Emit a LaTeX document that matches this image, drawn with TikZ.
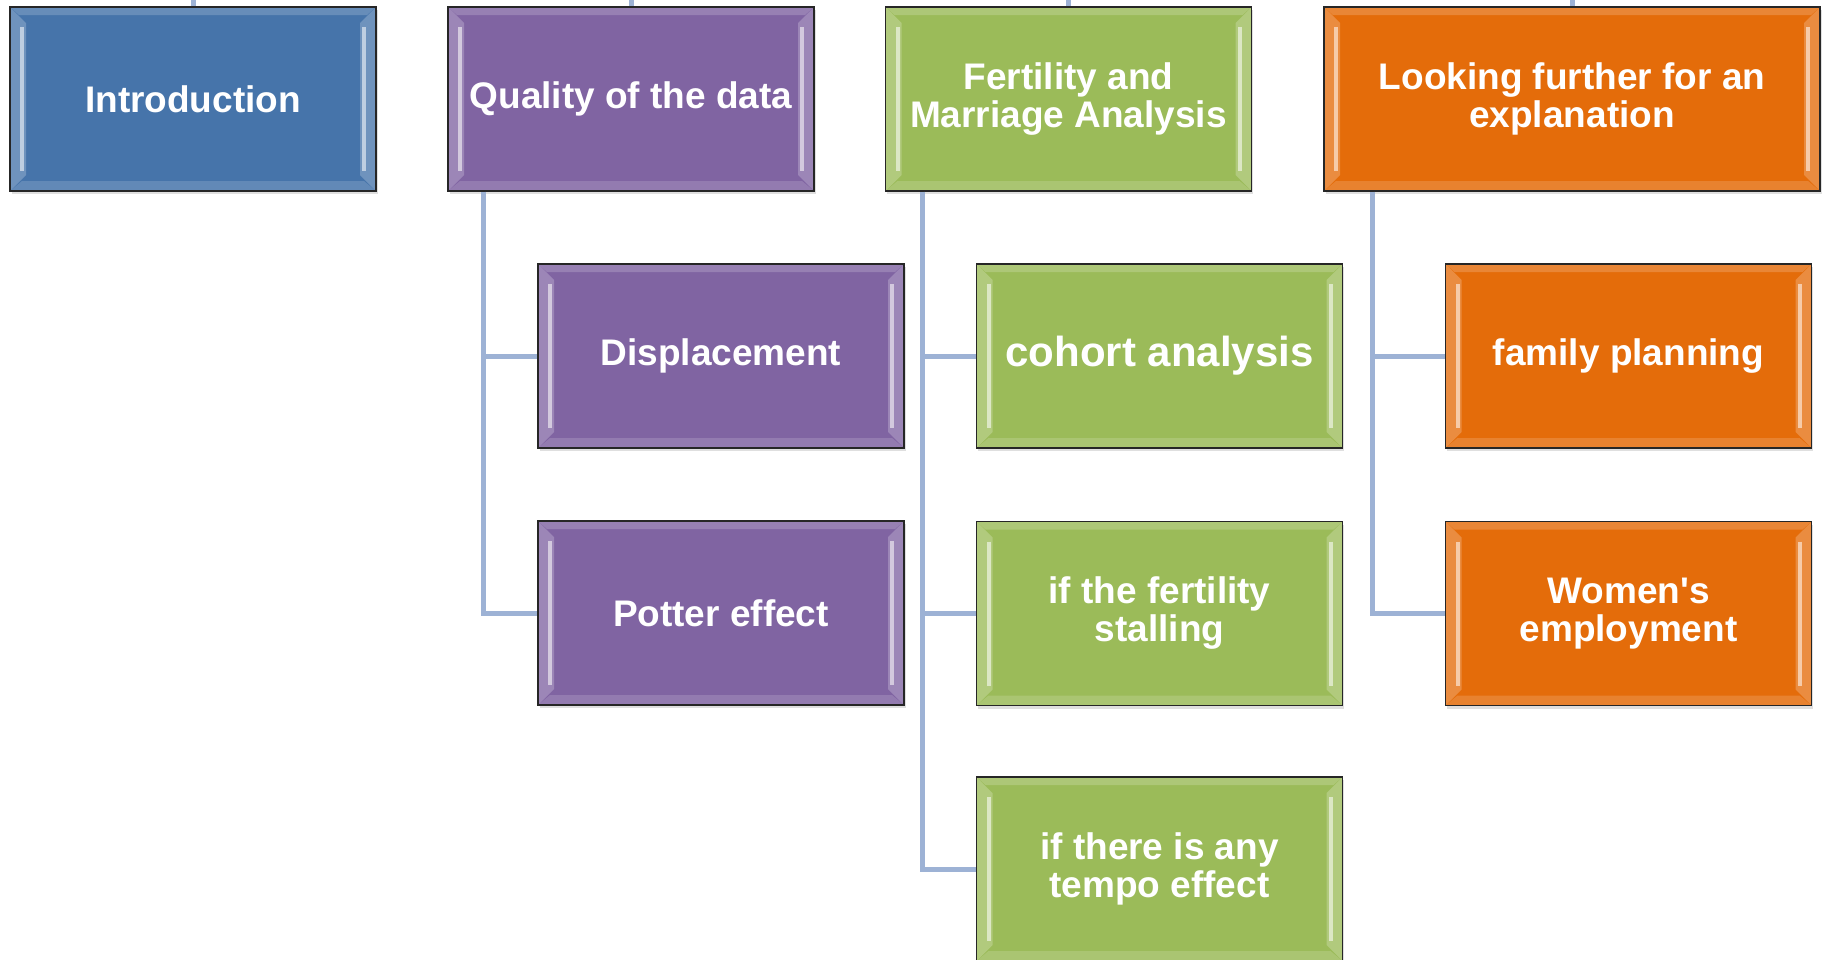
\documentclass[tikz,border=0pt]{standalone}
\usepackage{fontspec}
\setmainfont{Liberation Sans}
\usetikzlibrary{calc,shadows}
\definecolor{cblue}{HTML}{4674AA}
\definecolor{cpurple}{HTML}{8064A2}
\definecolor{cgreen}{HTML}{9BBB59}
\definecolor{corange}{HTML}{E46C0A}
\definecolor{cline}{HTML}{9DB2D5}
\tikzset{
 bx/.style={draw=black!85, line width=1.6pt, text=white, align=center, inner sep=0pt,
   minimum width=366pt, minimum height=184pt, font=\bfseries\fontsize{37}{38}\selectfont,
   drop shadow={shadow xshift=1.5pt, shadow yshift=-3pt, opacity=0.25},
   fill=#1,
   path picture={
     \coordinate (pnw) at (path picture bounding box.north west);
     \coordinate (pse) at (path picture bounding box.south east);
     \coordinate (pne) at (pnw -| pse);
     \coordinate (psw) at (pnw |- pse);
     \fill[#1!82!white] (pnw) -- (pne) -- ($(pne)+(-9,-8)$) -- ($(pnw)+(9,-8)$) -- cycle;
     \fill[#1!85!white] (psw) -- (pse) -- ($(pse)+(-12,10)$) -- ($(psw)+(12,10)$) -- cycle;
     \fill[#1!78!white] (pnw) -- ($(pnw)+(16,-16)$) -- ($(psw)+(16,16)$) -- (psw) -- cycle;
     \fill[#1!78!white] (pne) -- ($(pne)+(-16,-16)$) -- ($(pse)+(-16,16)$) -- (pse) -- cycle;
     \draw[#1!35!white, line width=4pt] ($(pnw)+(12,-20)$) -- ($(psw)+(12,20)$);
     \draw[#1!35!white, line width=4pt] ($(pne)+(-12,-20)$) -- ($(pse)+(-12,20)$);
   }},
 conn/.style={draw=cline, line width=5pt},
}
\begin{document}
\begin{tikzpicture}[x=1pt,y=1pt]
\useasboundingbox (0,0) rectangle (1823,-959);
\coordinate (top) at (0,0);
% top level
\node[bx=cblue] (intro) at (193,-99) {Introduction};
\node[bx=cpurple] (qual) at (631,-99) {Quality of the data};
\node[bx=cgreen] (fert) at (1068.5,-99) {Fertility and\\Marriage Analysis};
\node[bx=corange, minimum width=496pt] (look) at (1572,-99) {Looking further for an\\explanation};
% children
\node[bx=cpurple] (disp) at (721,-356) {Displacement};
\node[bx=cpurple] (pot) at (721,-613) {Potter effect};
\node[bx=cgreen, font=\bfseries\fontsize{42}{44}\selectfont] (coh) at (1159.5,-356) {cohort analysis};
\node[bx=cgreen] (stall) at (1159.5,-613.5) {if the fertility\\stalling};
\node[bx=cgreen] (tempo) at (1159.5,-869) {if there is any\\tempo effect};
\node[bx=corange] (fam) at (1628.5,-356) {family planning};
\node[bx=corange] (wom) at (1628.5,-613.5) {Women\textquotesingle s\\employment};
% connectors
\draw[conn] (intro.north) -- (intro.north |- top);
\draw[conn] (qual.north) -- (qual.north |- top);
\draw[conn] (fert.north) -- (fert.north |- top);
\draw[conn] (look.north) -- (look.north |- top);
\draw[conn] ([xshift=36.6pt]qual.south west) |- (disp.west);
\draw[conn] ([xshift=36.6pt]qual.south west) |- (pot.west);
\draw[conn] ([xshift=37.5pt]fert.south west) |- (coh.west);
\draw[conn] ([xshift=37.5pt]fert.south west) |- (stall.west);
\draw[conn] ([xshift=37.5pt]fert.south west) |- (tempo.west);
\draw[conn] ([xshift=49.6pt]look.south west) |- (fam.west);
\draw[conn] ([xshift=49.6pt]look.south west) |- (wom.west);
\end{tikzpicture}
\end{document}
